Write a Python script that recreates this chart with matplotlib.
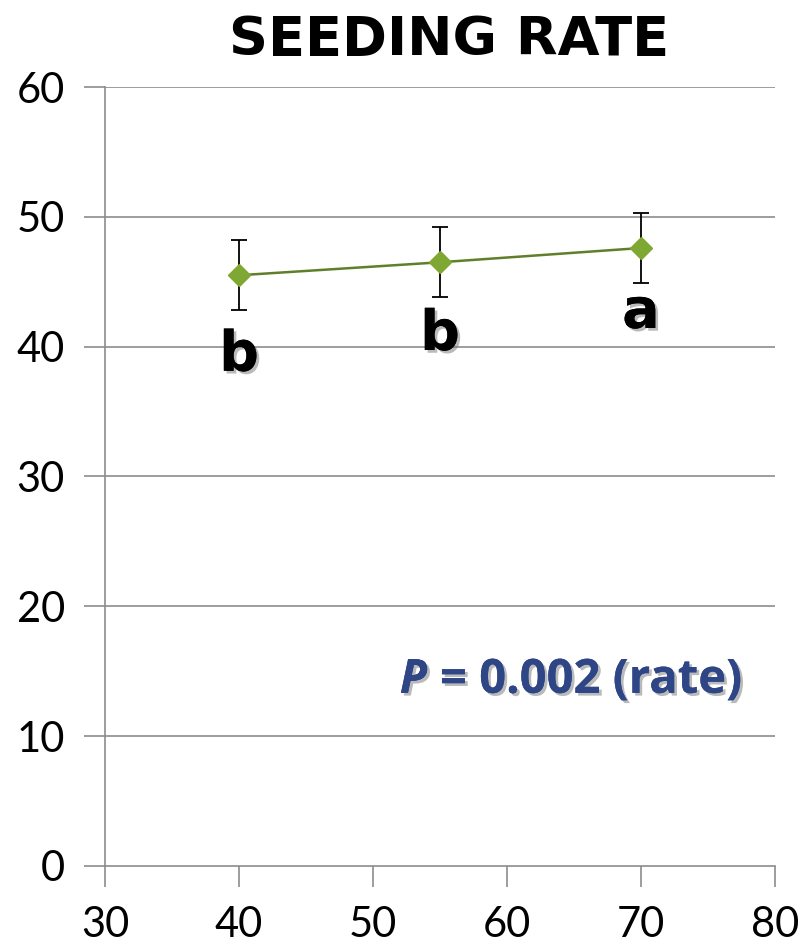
import matplotlib.pyplot as plt
import matplotlib.patheffects as pe

# seeding rate data
rates = [40, 55, 70]
means = [45.5, 46.5, 47.6]
errs = [2.7, 2.7, 2.7]
letters = ['b', 'b', 'a']
letter_y = [39.3, 40.9, 42.6]

fig = plt.figure(figsize=(8.08, 9.51), dpi=100)
ax = fig.add_axes([0.13, 0.0894, 0.829, 0.8191])

grid_col = '#8c8c8c'
for yv in range(10, 61, 10):
    ax.axhline(yv, color=grid_col, lw=1.2, zorder=0)

ax.errorbar(rates, means, yerr=errs, fmt='none', ecolor='black', elinewidth=1.3,
            capsize=6, capthick=1.3, zorder=2)
ax.plot(rates, means, color='#5f7f2a', lw=1.8, zorder=3)
ax.plot(rates, means, 'D', color='#7fa832', markersize=11, mec='#7fa832', zorder=4)

shadow = [pe.withSimplePatchShadow(offset=(2, -2), shadow_rgbFace='#777777', alpha=0.5), pe.Normal()]
for x, y, s in zip(rates, letter_y, letters):
    ax.text(x, y, s, ha='center', va='center', fontsize=40, fontweight='heavy',
            family='DejaVu Sans', color='black', path_effects=shadow)

blue = '#2e4586'
ax.text(52.0, 14.3, 'P', ha='left', va='center', fontsize=34, fontweight='bold',
        style='italic', family='Open Sans', color=blue, path_effects=shadow)
ax.text(55.0, 14.3, '= 0.002 (rate)', ha='left', va='center', fontsize=34,
        fontweight='bold', family='Open Sans', color=blue, path_effects=shadow)

ax.set_xlim(30, 80)
ax.set_ylim(0, 60)
ax.set_xticks(range(30, 81, 10))
ax.set_yticks(range(0, 61, 10))
for sp in ['top', 'right']:
    ax.spines[sp].set_visible(False)
for sp in ['left', 'bottom']:
    ax.spines[sp].set_color(grid_col)
    ax.spines[sp].set_linewidth(1.2)
ax.tick_params(length=15, width=1.2, color=grid_col, labelsize=30, pad=14)
for lab in ax.get_xticklabels() + ax.get_yticklabels():
    lab.set_family('Lato')

fig.text(0.556, 0.958, 'SEEDING RATE', ha='center', va='center', fontsize=39,
         fontweight='bold', family='DejaVu Sans')

fig.savefig('out.png', dpi=100)
